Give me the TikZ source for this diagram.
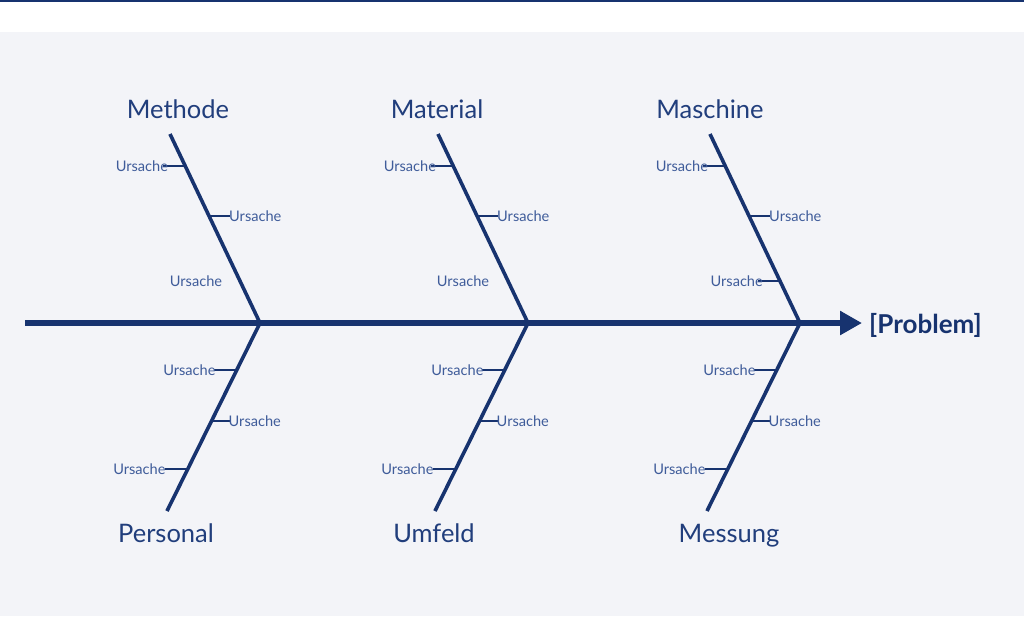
\documentclass[tikz,border=0pt]{standalone}
\usepackage{fontspec}
\setmainfont{Lato}
\usetikzlibrary{arrows.meta}
\definecolor{navy}{HTML}{17336F}
\definecolor{headc}{HTML}{213E7C}
\definecolor{causec}{HTML}{3F5C9A}
\definecolor{bgc}{HTML}{F3F4F8}
\begin{document}
\begin{tikzpicture}[x=1pt,y=-1pt,
  bone/.style={draw=navy,line width=3.6pt},
  spine/.style={draw=navy,line width=6pt,-{Triangle[length=22pt,width=23pt]}},
  tick/.style={draw=navy,line width=1.3pt},
  head/.style={text=headc,font=\fontsize{25.5}{28}\selectfont,inner sep=0pt,anchor=base},
  cause/.style={text=causec,font=\fontsize{14.6}{16}\selectfont,inner sep=0pt},
  probl/.style={text=navy,font=\fontsize{26}{28}\bfseries\selectfont,inner xsep=7pt,inner ysep=0pt}]
\useasboundingbox (0,0) rectangle (1024,616);
\fill[white] (0,0) rectangle (1024,32);
\fill[bgc] (0,32) rectangle (1024,616);
\fill[navy] (0,0) rectangle (1024,2);

% spine
\coordinate (tail) at (25,323);
\coordinate (tip) at (862,323);
\draw[spine] (tail) -- (tip);
\node[probl,anchor=base west] (prob) at (862,333) {[Problem]};

% bone coordinates
\foreach \n/\b in {m1/260,m2/528,m3/800}{
  \coordinate (\n b) at (\b,323);
  \coordinate (\n t) at (\b-90,134);
  \coordinate (\n k1) at (\b-90+15.2,166);
  \coordinate (\n k2) at (\b-90+39,216);
  \coordinate (\n k3) at (\b-90+70,281);
  \coordinate (\n e1) at (\b-90+15.2-22,166);
  \coordinate (\n e2) at (\b-90+39+21,216);
  \coordinate (\n e3) at (\b-90+70-22,281);
}
\foreach \n/\b in {p1/260,p2/528,p3/800}{
  \coordinate (\n t) at (\b,323);
  \coordinate (\n b) at (\b-93,511);
  \coordinate (\n k1) at (\b-23.3,370);
  \coordinate (\n k2) at (\b-48.5,421);
  \coordinate (\n k3) at (\b-72.3,469);
  \coordinate (\n e1) at (\b-23.3-23,370);
  \coordinate (\n e2) at (\b-48.5+18,421);
  \coordinate (\n e3) at (\b-72.3-23,469);
}
% bones
\foreach \n in {m1,m2,m3,p1,p2,p3}{\draw[bone] (\n t) -- (\n b);}

% ticks
\foreach \n in {m1,m2,m3,p1,p2,p3}{
  \draw[tick] (\n k1) -- (\n e1);
  \draw[tick] (\n k2) -- (\n e2);
}
\draw[tick] (m3k3) -- (m3e3);
\foreach \n in {p1,p2,p3}{\draw[tick] (\n k3) -- (\n e3);}

% headings
\node[head] (hm1) at (178,118) {Methode};
\node[head] (hm2) at (437,118) {Material};
\node[head] (hm3) at (710,118) {Maschine};
\node[head] (hp1) at (166,542) {Personal};
\node[head] (hp2) at (434,542) {Umfeld};
\node[head] (hp3) at (729,542) {Messung};

% causes
\foreach \n in {m1,m2,m3}{
  \node[cause,anchor=base east] (c\n a) at ([xshift=5pt,yshift=-5.5pt]\n e1) {Ursache};
}
\foreach \n in {p1,p2,p3}{
  \node[cause,anchor=base east] (c\n a) at ([xshift=2pt,yshift=-5.5pt]\n e1) {Ursache};
}
\foreach \n in {m1,m2,m3,p1,p2,p3}{
  \node[cause,anchor=base west] (c\n b) at ([xshift=-1pt,yshift=-5.5pt]\n e2) {Ursache};
}
\node[cause,anchor=base] (cm1c) at (196,286.5) {Ursache};
\node[cause,anchor=base] (cm2c) at (463,286.5) {Ursache};
\node[cause,anchor=base east] (cm3c) at ([xshift=5pt,yshift=-5.5pt]m3e3) {Ursache};
\foreach \n in {p1,p2,p3}{\node[cause,anchor=base east] (c\n c) at ([xshift=1pt,yshift=-5.5pt]\n e3) {Ursache};}
\end{tikzpicture}
\end{document}
